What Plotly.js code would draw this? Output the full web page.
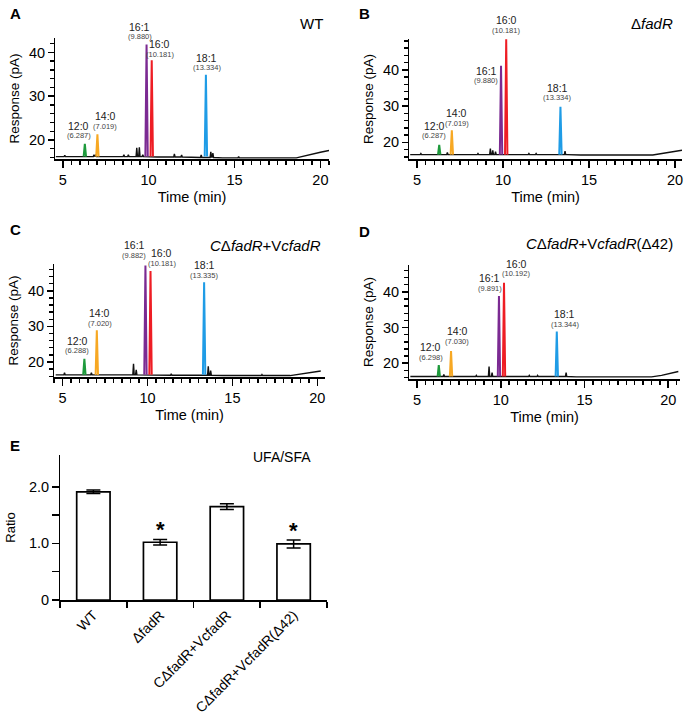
<!DOCTYPE html>
<html>
<head>
<meta charset="utf-8">
<script src="https://cdn.plot.ly/plotly-3.0.1.min.js"></script>
<style>
  html, body { margin: 0; padding: 0; background: #fff; }
  #chart { width: 686px; height: 720px; }
</style>
</head>
<body>
<div id="chart"></div>
<script>
// === fatty acid peaks (same order in every run) ===
const acids = ["12:0", "14:0", "16:1", "16:0", "18:1"];
const acidColors = ["#1e9a3c", "#f7a823", "#7b2a92", "#ee1d24", "#1f9ce6"];

// retention time (min) and apex response (pA) per strain
const rtWT = [6.287, 7.019, 9.880, 10.181, 13.334];
const hWT = [19.1, 21.3, 41.8, 38.2, 34.9];
const rtFadR = [6.287, 7.019, 9.880, 10.181, 13.334];
const hFadR = [19.3, 23.3, 41.1, 48.4, 29.8];
const rtComp = [6.288, 7.020, 9.882, 10.181, 13.335];
const hComp = [20.9, 28.9, 47.1, 45.5, 42.4];
const rtD42 = [6.298, 7.030, 9.891, 10.192, 13.344];
const hD42 = [19.5, 23.4, 38.8, 42.5, 28.9];

// baseline level under the coloured peaks
const baseLevel = [16.2, 16.6, 16.4, 16.3];

// black detector trace (time, response)
const baseTWT = [4.6, 5.08, 5.12, 5.16, 6.7, 6.78, 6.82, 6.86, 6.92, 6.96, 8.52, 8.56, 8.6, 8.78, 8.82, 8.86, 9.0,
  9.27, 9.31, 9.35, 9.42, 9.46, 9.5, 9.62, 9.66, 9.7, 10.5, 11.46, 11.5, 11.54, 11.88, 11.92, 11.96, 13.02, 13.06,
  13.1, 13.58, 13.62, 13.66, 13.7, 13.74, 13.78, 14.3, 15.2, 15.24, 15.28, 18.6, 19.0, 19.5, 20.0, 20.5];
const baseYWT = [16.2, 16.2, 16.5, 16.2, 16.2, 16.2, 16.6, 16.2, 16.5, 16.2, 16.2, 16.6, 16.2, 16.2, 16.6, 16.2, 16.2,
  16.2, 18.2, 16.2, 16.2, 18.3, 16.2, 16.2, 16.6, 16.2, 16.1, 16.1, 16.8, 16.1, 16.1, 16.6, 16.1, 16.0, 16.6,
  16.0, 16.0, 17.3, 16.1, 16.1, 17.0, 16.0, 15.9, 15.9, 16.2, 15.9, 15.9, 16.3, 16.8, 17.2, 17.6];

const baseTFadR = [4.6, 5.18, 5.22, 5.26, 6.72, 6.76, 6.8, 8.5, 8.54, 8.58, 9.22, 9.26, 9.3, 9.36, 9.4, 9.44,
  9.52, 9.56, 9.6, 10.6, 11.46, 11.5, 11.54, 11.88, 11.92, 11.96, 12.5, 13.56, 13.6, 13.64, 13.7, 14.5,
  18.7, 19.2, 19.8, 20.4];
const baseYFadR = [16.6, 16.6, 16.9, 16.6, 16.6, 17.2, 16.6, 16.6, 16.9, 16.6, 16.6, 18.3, 16.6, 16.6, 17.8, 16.6,
  16.6, 17.4, 16.6, 16.6, 16.6, 16.9, 16.6, 16.6, 16.9, 16.6, 16.6, 16.6, 17.6, 16.6, 16.6, 16.5,
  16.5, 16.9, 17.4, 17.8];

const baseTComp = [4.6, 5.08, 5.12, 5.16, 6.66, 6.7, 6.74, 8.5, 9.14, 9.18, 9.22, 9.3, 9.34, 9.38, 10.5,
  11.36, 11.4, 11.44, 13.54, 13.58, 13.62, 13.68, 13.72, 13.76, 14.5, 16.7, 16.74, 16.78, 18.4, 19.0, 19.6, 20.2];
const baseYComp = [16.4, 16.4, 17.0, 16.4, 16.4, 17.0, 16.4, 16.4, 16.4, 19.5, 16.4, 16.4, 17.8, 16.4, 16.3,
  16.3, 16.7, 16.3, 16.3, 18.8, 16.3, 16.3, 17.6, 16.3, 16.2, 16.2, 16.5, 16.2, 16.2, 16.7, 17.2, 17.5];

const baseTD42 = [4.6, 6.56, 6.6, 6.64, 8.5, 8.54, 8.58, 9.26, 9.3, 9.34, 9.44, 9.48, 9.52, 10.6, 11.66, 11.7,
  11.74, 12.16, 12.2, 12.24, 13.86, 13.9, 13.94, 14.5, 19.0, 19.6, 20.1, 20.6];
const baseYD42 = [16.3, 16.3, 16.9, 16.3, 16.3, 16.6, 16.3, 16.3, 19.1, 16.3, 16.3, 17.4, 16.3, 16.3, 16.3, 16.6,
  16.3, 16.3, 16.6, 16.3, 16.3, 17.4, 16.3, 16.2, 16.2, 16.6, 17.1, 17.7];

// === UFA/SFA ratio (panel E) ===
const strains = ["WT", "ΔfadR", "CΔfadR+VcfadR", "CΔfadR+VcfadR(Δ42)"];
const ratio = [1.91, 1.02, 1.65, 0.99];
const ratioErr = [0.03, 0.05, 0.05, 0.07];
const significant = [false, true, false, true];

// tick labels for the ratio axis
const ratioTicks = [0, 0.5, 1, 1.5, 2];
const ratioTickText = ["0", "", "1.0", "", "2.0"];

const FONT = "Liberation Sans, Arial, sans-serif";
const W = 686, H = 720;
const px = (x) => x / W;
const py = (y) => 1 - y / H;

const panels = [
  { rt: rtWT, h: hWT, bt: baseTWT, by: baseYWT, box: [55, 38, 329, 159], xr: [4.55, 20.5], yr: [15.65, 43.3],
    title: "WT", titlePos: [325, 23], letter: "A", letterPos: [8, 13],
    dx: [-6, 8, -7, 8, 1], dy: [18, 18, 18, 16, 17] },
  { rt: rtFadR, h: hFadR, bt: baseTFadR, by: baseYFadR, box: [409, 39, 682, 159], xr: [4.53, 20.4], yr: [15.4, 48.5],
    title: "Δ<i>fadR</i>", titlePos: [675, 23], letter: "B", letterPos: [357, 13],
    dx: [-5, 5, -15, 0, -3], dy: [19, 17, -5, 19, 19] },
  { rt: rtComp, h: hComp, bt: baseTComp, by: baseYComp, box: [54, 264, 325, 377], xr: [4.5, 20.45], yr: [15.8, 47.5],
    title: "<i>C</i>Δ<i>fadR</i>+V<i>cfadR</i>", titlePos: [323, 245], letter: "C", letterPos: [8, 229],
    dx: [-7, 3, -11, 11, 0], dy: [18, 17, 20, 18, 17] },
  { rt: rtD42, h: hD42, bt: baseTD42, by: baseYD42, box: [409, 265, 680, 379], xr: [4.52, 20.7], yr: [15.6, 47.5],
    title: "<i>C</i>Δ<i>fadR</i>+V<i>cfadR</i>(Δ42)", titlePos: [675, 243], letter: "D", letterPos: [357, 232],
    dx: [-8, 6, -9, 12, 8], dy: [18, 20, 18, 19, 17] },
];

const axisBase = {
  showline: true, linecolor: "#000", linewidth: 1.5,
  ticks: "outside", tickcolor: "#000", tickwidth: 1.6,
  showgrid: false, zeroline: false,
  tickfont: { family: FONT, size: 14.5, color: "#000" },
};
const minorBase = { ticks: "outside", tickcolor: "#000", tickwidth: 1.4, showgrid: false };

const traces = [];
const annotations = [];
const layout = {
  width: W, height: H,
  margin: { l: 0, r: 0, t: 0, b: 0 },
  paper_bgcolor: "#fff", plot_bgcolor: "#fff",
  showlegend: false,
  font: { family: FONT, color: "#000" },
};

panels.forEach((p, k) => {
  const n = k + 1;
  const xa = "x" + n, ya = "y" + n;
  layout["xaxis" + n] = {
    ...axisBase,
    domain: [px(p.box[0]), px(p.box[2])], range: p.xr, anchor: ya,
    tick0: 0, dtick: 5, ticklen: 7,
    minor: { ...minorBase, tick0: 0, dtick: 0.5, ticklen: 4.5 },
    title: { text: "Time (min)", font: { family: FONT, size: 14.5 }, standoff: 5 },
  };
  layout["yaxis" + n] = {
    ...axisBase,
    domain: [py(p.box[3]), py(p.box[1])], range: p.yr, anchor: xa,
    tick0: 0, dtick: 10, ticklen: 5.5,
    minor: { ...minorBase, tick0: 0, dtick: 2, ticklen: 4 },
    title: { text: "Response (pA)", font: { family: FONT, size: 13.5 }, standoff: 6 },
  };

  // black detector trace
  traces.push({
    type: "scatter", mode: "lines", x: p.bt, y: p.by, xaxis: xa, yaxis: ya,
    line: { color: "#111", width: 1.4 }, hoverinfo: "skip",
  });

  // coloured fatty acid peaks
  p.rt.forEach((t, i) => {
    const b = baseLevel[k];
    traces.push({
      type: "scatter", mode: "lines", xaxis: xa, yaxis: ya,
      x: [t - 0.07, t, t + 0.07], y: [b, p.h[i], b],
      line: { color: acidColors[i], width: 2 }, hoverinfo: "skip",
    });
    annotations.push({
      xref: xa, yref: ya, x: t, y: p.h[i], xshift: p.dx[i], yshift: p.dy[i],
      text: acids[i], showarrow: false, xanchor: "center", yanchor: "middle",
      font: { family: FONT, size: 10.5, color: "#222" },
    });
    annotations.push({
      xref: xa, yref: ya, x: t, y: p.h[i], xshift: p.dx[i], yshift: p.dy[i] - 10,
      text: "(" + t.toFixed(3) + ")", showarrow: false, xanchor: "center", yanchor: "middle",
      font: { family: FONT, size: 7.5, color: "#444" },
    });
  });

  annotations.push({
    xref: "paper", yref: "paper", x: px(p.titlePos[0]), y: py(p.titlePos[1]),
    text: p.title, showarrow: false, xanchor: "right", yanchor: "middle",
    font: { family: FONT, size: 15, color: "#000" },
  });
  annotations.push({
    xref: "paper", yref: "paper", x: px(p.letterPos[0]), y: py(p.letterPos[1]),
    text: "<b>" + p.letter + "</b>", showarrow: false, xanchor: "left", yanchor: "middle",
    font: { family: FONT, size: 15, color: "#000" },
  });
});

// === panel E: bar chart ===
traces.push({
  type: "bar", x: strains, y: ratio, xaxis: "x5", yaxis: "y5", width: 0.5,
  marker: { color: "#fff", line: { color: "#000", width: 1.7 } },
  error_y: { type: "data", array: ratioErr, visible: true, color: "#000", thickness: 1.5, width: 7 },
  hoverinfo: "skip",
});

layout.xaxis5 = {
  ...axisBase,
  domain: [px(60), px(327)], range: [-0.5, 3.5], anchor: "y5",
  type: "category", tickson: "boundaries", ticklen: 6.5, tickangle: -45,
  tickfont: { family: FONT, size: 14, color: "#000" },
};
layout.yaxis5 = {
  ...axisBase,
  domain: [py(600), py(455)], range: [0, 2.56], anchor: "x5",
  tickmode: "array", tickvals: ratioTicks, ticktext: ratioTickText, ticklen: 6.5,
  title: { text: "Ratio", font: { family: FONT, size: 13 }, standoff: 10 },
};

strains.forEach((s, i) => {
  if (!significant[i]) return;
  annotations.push({
    xref: "x5", yref: "y5", x: s, y: ratio[i] + ratioErr[i], yshift: -5,
    text: "<b>*</b>", showarrow: false, xanchor: "center", yanchor: "bottom",
    font: { family: FONT, size: 22, color: "#000" },
  });
});

annotations.push({
  xref: "paper", yref: "paper", x: px(313), y: py(457),
  text: "UFA/SFA", showarrow: false, xanchor: "right", yanchor: "middle",
  font: { family: FONT, size: 14, color: "#000" },
});
annotations.push({
  xref: "paper", yref: "paper", x: px(8), y: py(445),
  text: "<b>E</b>", showarrow: false, xanchor: "left", yanchor: "middle",
  font: { family: FONT, size: 15, color: "#000" },
});

layout.annotations = annotations;

Plotly.newPlot("chart", traces, layout, { staticPlot: true, displayModeBar: false });
</script>
</body>
</html>
